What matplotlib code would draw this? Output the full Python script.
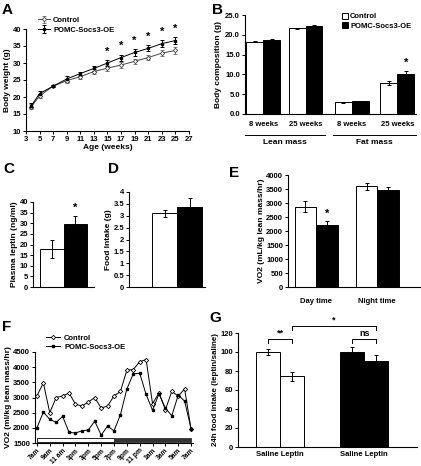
import numpy as np
import matplotlib.pyplot as plt
from matplotlib.patches import Rectangle

plt.rcParams['font.family'] = ['Liberation Sans', 'DejaVu Sans']
plt.rcParams['font.weight'] = 'bold'
plt.rcParams['axes.labelweight'] = 'bold'
plt.rcParams['axes.linewidth'] = 0.8
plt.rcParams['xtick.major.width'] = 0.7
plt.rcParams['ytick.major.width'] = 0.7
plt.rcParams['xtick.major.size'] = 2
plt.rcParams['ytick.major.size'] = 2
plt.rcParams['xtick.labelsize'] = 5.5
plt.rcParams['ytick.labelsize'] = 5.5
plt.rcParams['axes.labelsize'] = 6

# A: body weight
ages = [3.8, 5, 7, 9, 11, 13, 15, 17, 19, 21, 23, 25]
bw_ctrl = [17.2, 20.3, 23.2, 24.8, 26.0, 27.5, 28.5, 29.4, 30.5, 31.6, 32.9, 33.7]
bw_ctrl_err = [0.6, 0.6, 0.4, 0.6, 0.6, 0.7, 0.8, 0.8, 0.8, 0.8, 0.9, 1.0]
bw_oe = [17.5, 21.0, 23.2, 25.3, 26.9, 28.4, 30.0, 31.6, 33.1, 34.3, 35.7, 36.6]
bw_oe_err = [0.7, 0.7, 0.4, 0.8, 0.6, 0.7, 0.8, 0.9, 0.9, 0.9, 1.0, 1.1]
bw_star_ages = [15, 17, 19, 21, 23, 25]

# B: body composition
comp_labels = ['8 weeks', '25 weeks', '8 weeks', '25 weeks']
comp_ctrl = [18.3, 21.6, 3.0, 7.8]
comp_ctrl_err = [0.2, 0.2, 0.1, 0.6]
comp_oe = [18.6, 22.1, 3.3, 10.0]
comp_oe_err = [0.3, 0.3, 0.1, 0.8]

# C: leptin, D: food intake
leptin = [18.0, 29.5]
leptin_err = [4.2, 4.0]
food = [3.1, 3.35]
food_err = [0.15, 0.4]

# E: VO2 day/night
vo2_labels = ['Day time', 'Night time']
vo2_ctrl = [2870, 3600]
vo2_ctrl_err = [200, 130]
vo2_oe = [2200, 3450]
vo2_oe_err = [150, 110]

# F: hourly VO2
hour_labels = ['7am', '9am', '11 am', '1pm', '3pm', '5pm', '7pm', '9pm', '11 pm',
               '1am', '3am', '5am', '7am']
vo2h_ctrl = [3050, 3480, 2500, 3000, 3050, 3150, 2780, 2720, 2850, 3000, 2650, 2720,
             3050, 3200, 3900, 3920, 4180, 4250, 2800, 3150, 2600, 3200, 3050, 3280, 1950]
vo2h_oe = [2000, 2520, 2280, 2180, 2380, 1850, 1830, 1900, 1930, 2220, 1760, 2060,
           1900, 2430, 3280, 3780, 3800, 3100, 2580, 3120, 2650, 2400, 3080, 2880, 1970]

# G: leptin response
g_labels = ['Saline Leptin', 'Saline Leptin']
g_ctrl = [100, 74.5]
g_ctrl_err = [3, 4.5]
g_oe = [100, 90.5]
g_oe_err = [5, 6]

W, H = 421, 466
fig = plt.figure(figsize=(W / 100, H / 100), dpi=100)


def ax_px(l, t, r, b):
    ax = fig.add_axes([l / W, 1 - b / H, (r - l) / W, (b - t) / H])
    ax.spines['top'].set_visible(False)
    ax.spines['right'].set_visible(False)
    ax.tick_params(pad=1.5)
    return ax


def letter(x, y, s):
    fig.text(x / W, 1 - y / H, s, fontsize=11, fontweight='bold', va='top', ha='left')


ekw = dict(ecolor='black', elinewidth=0.7, capsize=1.5, capthick=0.7)

# ---- A
ax = ax_px(26, 29, 189, 131)
ax.errorbar(ages, bw_ctrl, yerr=bw_ctrl_err, color='#444444', lw=0.7, marker='D', ms=2.2,
            mfc='white', mec='#444444', mew=0.6, label='Control', **dict(ekw, ecolor='#666666'))
ax.errorbar(ages, bw_oe, yerr=bw_oe_err, color='black', lw=0.7, marker='s', ms=2,
            mfc='black', mec='black', label='POMC-Socs3-OE', **ekw)
for a in bw_star_ages:
    i = ages.index(a)
    ax.text(a, bw_oe[i] + bw_oe_err[i] + 1.0, '*', ha='center', va='bottom', fontsize=8)
ax.set_xlim(3, 27)
ax.set_ylim(10, 40)
ax.set_xticks(range(3, 28, 2))
ax.set_yticks(range(10, 41, 5))
ax.set_xlabel('Age (weeks)', labelpad=1)
ax.set_ylabel('Body weight (g)', labelpad=1)
ax.legend(loc='upper left', bbox_to_anchor=(34 / W, 1 - 13 / H), bbox_transform=fig.transFigure,
          frameon=False, fontsize=5.5, handlelength=1.6, handletextpad=0.4, borderpad=0,
          labelspacing=0.3)
letter(2, 3, 'A')

# ---- B
ax = ax_px(245, 15, 416, 114)
pos = np.array([0, 1.0, 2.09, 3.17])
bw = 0.4
ax.bar(pos - bw / 2, comp_ctrl, bw, color='white', edgecolor='black', lw=0.7,
       yerr=comp_ctrl_err, error_kw=ekw, label='Control')
ax.bar(pos + bw / 2, comp_oe, bw, color='black', edgecolor='black', lw=0.7,
       yerr=comp_oe_err, error_kw=ekw, label='POMC-Socs3-OE')
ax.text(pos[3] + bw / 2, comp_oe[3] + comp_oe_err[3] + 0.8, '*', ha='center', va='bottom', fontsize=8)
ax.set_xlim(-0.43, 3.61)
ax.set_ylim(0, 25)
ax.set_yticks(np.arange(0, 26, 5))
ax.set_yticklabels(['%.1f' % v for v in np.arange(0, 26, 5)])
ax.set_xticks(pos)
ax.set_xticklabels(comp_labels)
ax.tick_params(axis='x', length=0, pad=5)
ax.set_ylabel('Body composition (g)', labelpad=2)
for x0, x1, name in [(-0.43, 1.45, 'Lean mass'), (1.66, 3.61, 'Fat mass')]:
    ax.plot([x0, x1], [-5.2, -5.2], color='black', lw=0.7, clip_on=False, transform=ax.transData)
    ax.text((x0 + x1) / 2, -6.3, name, ha='center', va='top', fontsize=6)
ax.legend(loc='upper left', bbox_to_anchor=(338 / W, 1 - 9 / H), bbox_transform=fig.transFigure,
          frameon=False, fontsize=5.5, handlelength=0.8, handleheight=0.8, handletextpad=0.3,
          borderpad=0, labelspacing=0.25)
letter(212, 3, 'B')

# ---- C
ax = ax_px(33, 202, 94, 287)
ax.bar([0, 1], leptin, 1, color=['white', 'black'], edgecolor='black', lw=0.7,
       yerr=leptin_err, error_kw=ekw)
ax.text(1, leptin[1] + leptin_err[1] + 1.5, '*', ha='center', va='bottom', fontsize=8)
ax.set_xlim(-0.8, 1.8)
ax.set_ylim(0, 40)
ax.set_yticks(range(0, 41, 5))
ax.set_xticks([])
ax.set_ylabel('Plasma leptin (ng/ml)', labelpad=1)
letter(3, 162, 'C')

# ---- D
ax = ax_px(129, 192, 205, 287)
ax.bar([0, 1], food, 1, color=['white', 'black'], edgecolor='black', lw=0.7,
       yerr=food_err, error_kw=ekw)
ax.set_xlim(-1.42, 1.62)
ax.set_ylim(0, 4)
ax.set_yticks(np.arange(0, 4.1, 0.5))
ax.set_yticklabels(['0', '0.5', '1', '1.5', '2', '2.5', '3', '3.5', '4'])
ax.set_xticks([])
ax.set_ylabel('Food Intake (g)', labelpad=1)
letter(108, 162, 'D')

# ---- E
ax = ax_px(288, 175, 420, 287)
pos = np.array([0, 1.0])
bw = 0.35
ax.bar(pos - bw / 2, vo2_ctrl, bw, color='white', edgecolor='black', lw=0.7,
       yerr=vo2_ctrl_err, error_kw=ekw)
ax.bar(pos + bw / 2, vo2_oe, bw, color='black', edgecolor='black', lw=0.7,
       yerr=vo2_oe_err, error_kw=ekw)
ax.text(pos[0] + bw / 2, vo2_oe[0] + vo2_oe_err[0] + 80, '*', ha='center', va='bottom', fontsize=8)
ax.set_xlim(-0.46, 1.7)
ax.set_ylim(0, 4000)
ax.set_yticks(range(0, 4001, 500))
ax.set_xticks(pos)
ax.set_xticklabels(vo2_labels)
ax.tick_params(axis='x', length=0, pad=8)
ax.set_ylabel('VO2 (mL/kg lean mass/hr)', labelpad=1)
letter(229, 166, 'E')

# ---- F
ax = ax_px(35, 352, 193, 443)
hrs = np.arange(len(vo2h_ctrl))
ax.plot(hrs, vo2h_ctrl, color='black', lw=0.7, marker='D', ms=2.2, mfc='white', mew=0.6,
        label='Control')
ax.plot(hrs, vo2h_oe, color='black', lw=0.7, marker='s', ms=1.8, mfc='black', label='POMC-Socs3-OE')
ax.add_patch(Rectangle((0, 1522), 12, 143, facecolor='white', edgecolor='black', lw=0.6))
ax.add_patch(Rectangle((12, 1522), 12, 143, facecolor='#333333', edgecolor='#333333', lw=0.6))
ax.set_xlim(-0.3, 24.3)
ax.set_ylim(1500, 4500)
ax.set_yticks(range(1500, 4501, 500))
ax.set_xticks(hrs[::2])
ax.set_xticklabels(hour_labels, rotation=45, ha='right', rotation_mode='anchor', fontsize=4.8)
ax.tick_params(axis='x', pad=1)
ax.set_ylabel('VO2 (ml/kg lean mass/hr)', labelpad=1)
ax.legend(loc='upper left', bbox_to_anchor=(42 / W, 1 - 331 / H), bbox_transform=fig.transFigure,
          frameon=False, fontsize=5.5, handlelength=1.8, handletextpad=0.6, borderpad=0,
          labelspacing=0.2)
letter(2, 320, 'F')

# ---- G
ax = ax_px(238, 333, 417, 447)
ax.bar([0, 1], g_ctrl, 1, color='white', edgecolor='black', lw=0.7, yerr=g_ctrl_err, error_kw=ekw)
ax.bar([3.5, 4.5], g_oe, 1, color='black', edgecolor='black', lw=0.7, yerr=g_oe_err, error_kw=ekw)
ax.set_xlim(-1.25, 6.2)
ax.set_ylim(0, 120)
ax.set_yticks(range(0, 121, 20))
ax.set_xticks([0.5, 4.0])
ax.set_xticklabels(g_labels)
ax.tick_params(axis='x', length=0, pad=3)
ax.set_ylabel('24h food intake (leptin/saline)', labelpad=1, fontsize=5.8)


def bracket(x0, x1, y, drop, s):
    ax.plot([x0, x0, x1, x1], [y - drop, y, y, y - drop], color='black', lw=0.7, clip_on=False)
    ax.text((x0 + x1) / 2, y + 1, s, ha='center', va='bottom', fontsize=6.5)


bracket(0, 1, 114, 5, '**')
bracket(3.5, 4.5, 114, 5, 'ns')
bracket(1, 4.5, 127.5, 4.5, '*')
letter(209, 311, 'G')

fig.savefig('out.png', dpi=100)
